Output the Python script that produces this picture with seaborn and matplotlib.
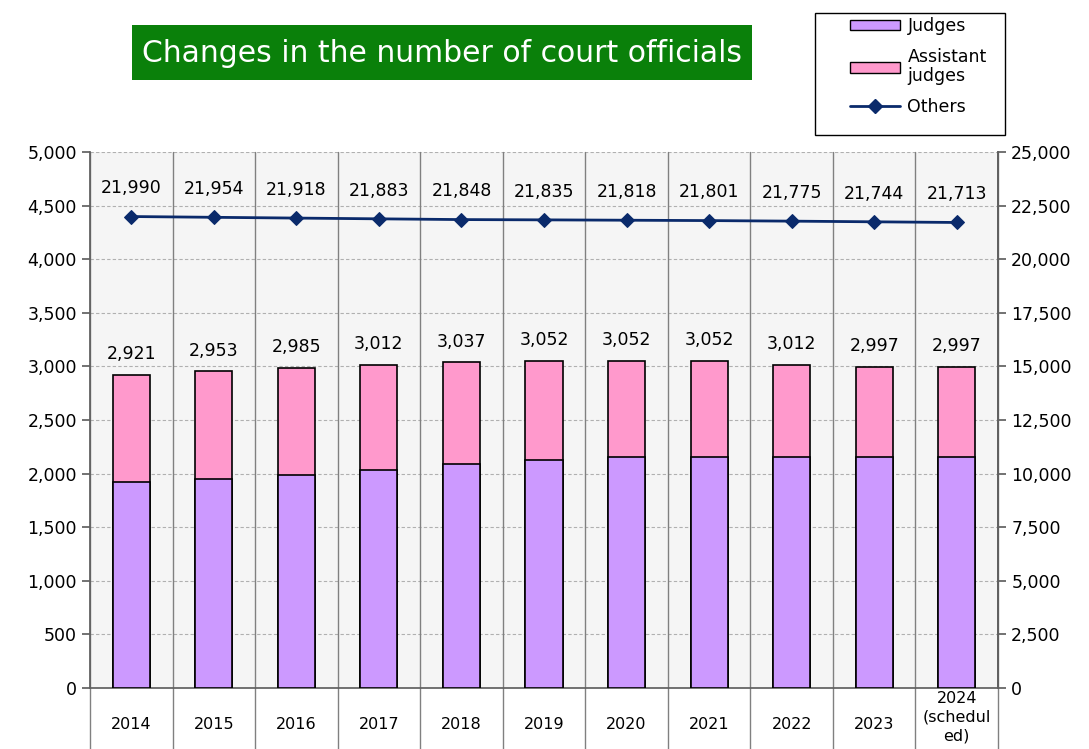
import matplotlib
matplotlib.use("Agg")
import matplotlib.pyplot as plt
import seaborn as sns
import pandas as pd
import numpy as np
from matplotlib.ticker import FuncFormatter, MultipleLocator
from matplotlib.patches import Patch, Rectangle
from matplotlib.lines import Line2D

years = ["2014", "2015", "2016", "2017", "2018", "2019", "2020", "2021", "2022", "2023", "2024\n(schedul\ned)"]
judges = [1921, 1953, 1985, 2035, 2085, 2125, 2155, 2155, 2155, 2155, 2155]
assistant_judges = [1000, 1000, 1000, 977, 952, 927, 897, 897, 857, 842, 842]
others = [21990, 21954, 21918, 21883, 21848, 21835, 21818, 21801, 21775, 21744, 21713]

totals = [j + a for j, a in zip(judges, assistant_judges)]
df = pd.DataFrame({"year": years, "judges": judges, "assistant": assistant_judges,
                   "total": totals, "others": others})

sns.set_theme(style="white")
plt.rcParams["font.family"] = ["DejaVu Sans"]
plt.rcParams["text.color"] = "black"
plt.rcParams["xtick.color"] = "black"
plt.rcParams["ytick.color"] = "black"

fig = plt.figure(figsize=(10.89, 7.49), dpi=100)
ax = fig.add_axes([90/1089, 1-688/749, 908/1089, 536/749])
ax.set_facecolor("#f5f5f5")

purple = "#cc99ff"
pink = "#ff99cc"
navy = "#0a2a6b"

sns.barplot(data=df, x="year", y="total", color=pink, saturation=1, width=0.45,
            edgecolor="black", linewidth=1.2, ax=ax, zorder=3)
sns.barplot(data=df, x="year", y="judges", color=purple, saturation=1, width=0.45,
            edgecolor="black", linewidth=1.2, ax=ax, zorder=3)

ax.set_ylim(0, 5000)
ax.set_xlim(-0.5, len(years) - 0.5)
ax.yaxis.set_major_locator(MultipleLocator(500))
ax.yaxis.set_major_formatter(FuncFormatter(lambda v, p: f"{int(v):,}"))
ax.set_xlabel("")
ax.set_ylabel("")

for y in np.arange(500, 5001, 500):
    ax.axhline(y, color="#b0b0b0", linestyle=(0, (3, 2)), linewidth=0.8, zorder=1)

# category separators extending below axis (table look)
for k in range(len(years) + 1):
    ax.plot([k - 0.5, k - 0.5], [-720, 5000], color="#808080", linewidth=1.0,
            clip_on=False, zorder=2)

for i, t in enumerate(totals):
    ax.text(i, t + 110, f"{t:,}", ha="center", va="bottom", fontsize=12.5, color="black")

ax.tick_params(axis="x", length=0, pad=14, labelsize=11.5)
ax.tick_params(axis="y", length=6, direction="out", labelsize=12.5, left=True, color="#606060")
ax.set_xticks(range(len(years)))
ax.set_xticklabels(years)
for lab, y in zip(ax.get_xticklabels(), years):
    lab.set_va("top")
    if "\n" in y:
        lab.set_linespacing(1.3)
        lab.set_y(0.031)
    else:
        lab.set_y(-0.018)

ax.spines["top"].set_visible(False)
for s in ["left", "bottom", "right"]:
    ax.spines[s].set_color("#606060")

ax2 = ax.twinx()
sns.lineplot(x=np.arange(len(years)), y=df["others"], ax=ax2, color=navy, linewidth=2,
             marker="D", markersize=7, markeredgecolor=navy, zorder=5)
ax2.set_ylim(0, 25000)
ax2.yaxis.set_major_locator(MultipleLocator(2500))
ax2.yaxis.set_major_formatter(FuncFormatter(lambda v, p: f"{int(v):,}"))
ax2.tick_params(axis="y", length=6, direction="out", labelsize=12.5, right=True, color="#606060")
ax2.set_ylabel("")
for s in ["top", "left", "bottom"]:
    ax2.spines[s].set_visible(False)
ax2.spines["right"].set_color("#606060")
for i, v in enumerate(others):
    ax2.text(i, v + 900, f"{v:,}", ha="center", va="bottom", fontsize=12.5, color="black")

# title box
fig.patches.append(Rectangle((132/1089, 1-80/749), 620/1089, 55/749, transform=fig.transFigure,
                             facecolor="#0a800a", edgecolor="none", zorder=1))
fig.text(442/1089, 1 - 53/749, "Changes in the number of court officials",
         ha="center", va="center", fontsize=21.5, color="white", zorder=2)

# legend frame
fig.patches.append(Rectangle((815/1089, 1-135/749), 190/1089, 122/749, transform=fig.transFigure,
                             facecolor="white", edgecolor="black", linewidth=1, zorder=1))
handles = [Patch(facecolor=purple, edgecolor="black", label="Judges"),
           Patch(facecolor=pink, edgecolor="black", label="Assistant\njudges"),
           Line2D([0], [0], color=navy, marker="D", markersize=7, linewidth=2, label="Others")]
leg = fig.legend(handles=handles, loc="upper left", bbox_to_anchor=(838/1089, 1 - 5/749),
                 frameon=False, fontsize=12.5, handlelength=2.9,
                 handleheight=0.55, labelspacing=0.75, borderpad=0.2, handletextpad=0.4)
for t in leg.get_texts():
    t.set_color("black")
    t.set_linespacing(1.05)

fig.savefig("out.png", dpi=100)
